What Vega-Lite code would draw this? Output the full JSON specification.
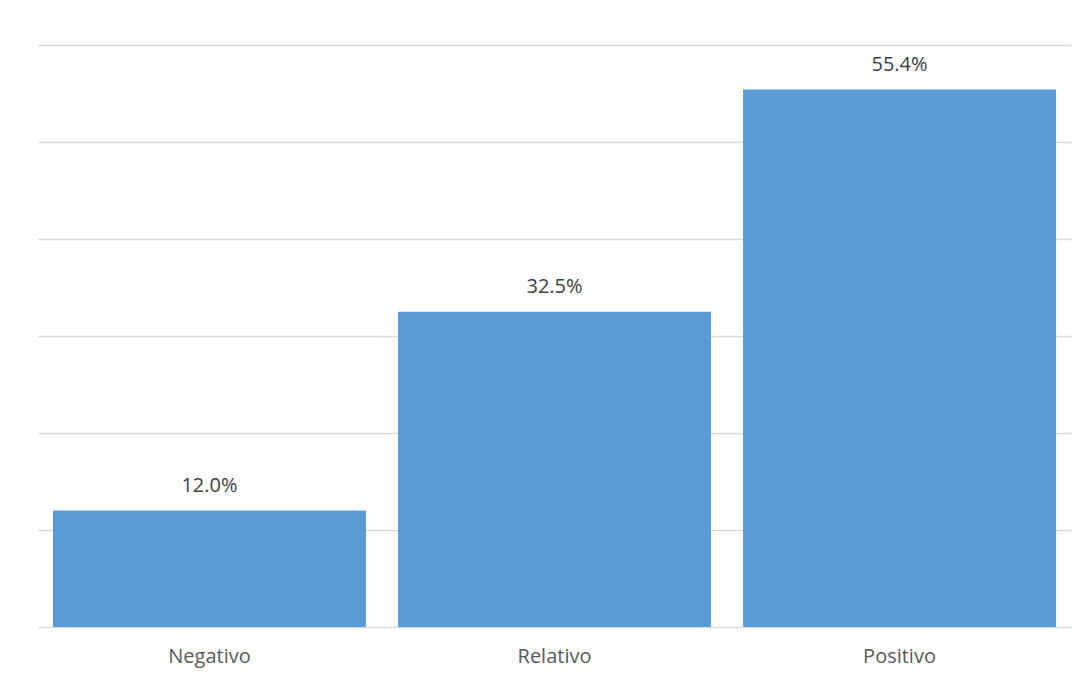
{
  "$schema": "https://vega.github.io/schema/vega-lite/v6.json",
  "width": 1033,
  "height": 582,
  "autosize": {"type": "none"},
  "padding": {"left": 38, "top": 45, "right": 17, "bottom": 52},
  "background": "white",
  "config": {"view": {"stroke": null}, "font": "Open Sans"},
  "data": {"values": [
    {"category": "Negativo", "share": 0.12},
    {"category": "Relativo", "share": 0.325},
    {"category": "Positivo", "share": 0.554}
  ]},
  "encoding": {
    "x": {"field": "category", "type": "nominal", "sort": null,
      "scale": {"paddingInner": 0.093, "paddingOuter": 0.0435},
      "axis": {"title": null, "labelAngle": 0, "domain": false, "ticks": false,
        "labelFont": "Open Sans", "labelFontSize": 20, "labelColor": "#595959",
        "labelPadding": 19}},
    "y": {"field": "share", "type": "quantitative",
      "scale": {"domain": [0, 0.6], "nice": false},
      "axis": {"title": null, "labels": false, "ticks": false, "domain": false,
        "values": [0, 0.1, 0.2, 0.3, 0.4, 0.5, 0.6],
        "gridColor": "#d9d9d9", "gridWidth": 1.5}}
  },
  "layer": [
    {"mark": {"type": "bar", "color": "#5B9BD5"}},
    {"mark": {"type": "text", "baseline": "alphabetic", "dy": -19, "fontSize": 20, "color": "#404040", "font": "Open Sans"},
     "encoding": {"text": {"field": "share", "type": "quantitative", "format": ".1%"}}}
  ]
}
